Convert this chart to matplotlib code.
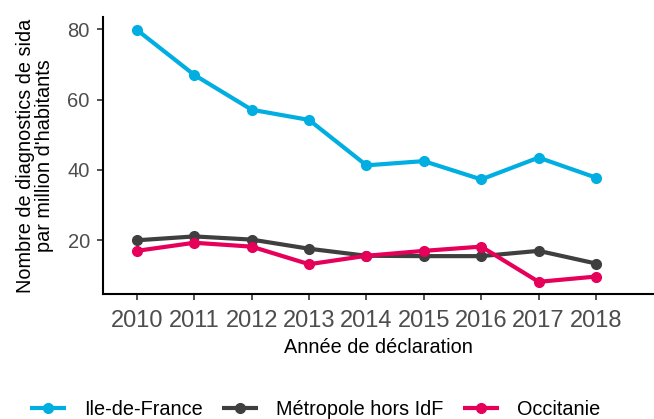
import matplotlib
matplotlib.use("Agg")
import matplotlib.pyplot as plt

# Data
annees = [2010, 2011, 2012, 2013, 2014, 2015, 2016, 2017, 2018]
idf = [79.8, 67.0, 57.1, 54.2, 41.3, 42.5, 37.3, 43.5, 37.8]
metropole = [20.0, 21.1, 20.2, 17.6, 15.6, 15.5, 15.5, 17.0, 13.4]
occitanie = [17.0, 19.3, 18.2, 13.2, 15.6, 17.0, 18.2, 8.2, 9.7]

series = ["Ile-de-France", "Métropole hors IdF", "Occitanie"]
couleurs = ["#00AEE2", "#3F3F3F", "#E6005A"]

plt.rcParams['font.family'] = ['Liberation Sans', 'DejaVu Sans']

fig = plt.figure(figsize=(6.54, 4.19), dpi=100)
ax = fig.add_axes([0.1575, 0.298, 0.8425, 0.661])

for vals, nom, c in zip([idf, metropole, occitanie], series, couleurs):
    ax.plot(annees, vals, color=c, linewidth=3, marker='o', markersize=7,
            solid_capstyle='butt', label=nom)

ax.set_xlim(2009.41, 2019.01)
ax.set_ylim(4.7, 83.4)
ax.set_xticks(annees)
ax.set_yticks([20, 40, 60, 80])

for s in ['top', 'right']:
    ax.spines[s].set_visible(False)
for s in ['left', 'bottom']:
    ax.spines[s].set_linewidth(1.5)
    ax.spines[s].set_color('black')

ax.tick_params(axis='both', labelcolor='#4D4D4D', length=4.5, width=1.2, color='#333333')
ax.tick_params(axis='x', labelsize=17, pad=7)
ax.tick_params(axis='y', labelsize=14.5, pad=5)

ax.set_xlabel("Année de déclaration", fontsize=14.3, color='black', labelpad=4)
ax.set_ylabel("Nombre de diagnostics de sida\npar million d'habitants", fontsize=14.3,
              color='black', labelpad=10, linespacing=1.0)

leg = fig.legend(loc='center', bbox_to_anchor=(315 / 654, 1 - 409 / 419), ncol=3, frameon=False,
                 fontsize=14.3, handlelength=1.85, columnspacing=0.95, handletextpad=0.9,
                 borderpad=0, borderaxespad=0)

fig.savefig("out.png", dpi=100)
